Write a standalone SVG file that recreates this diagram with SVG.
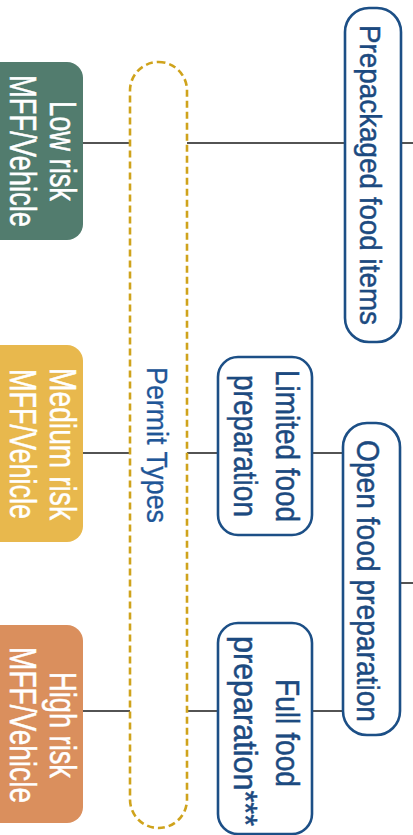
<svg xmlns="http://www.w3.org/2000/svg" width="413" height="835" viewBox="0 0 413 835">
<style>
.risk{stroke:none}
.wt{fill:#ffffff;stroke:#ffffff;stroke-width:0.5;font-family:"Liberation Sans",Arial,sans-serif;font-size:36px;text-anchor:middle}
.bt{fill:#1c4a80;stroke:#1c4a80;stroke-width:0.5;font-family:"Liberation Sans",Arial,sans-serif;text-anchor:middle}
.pt{fill:#1f5697;stroke:#1f5697;stroke-width:0.3;font-family:"Liberation Sans",Arial,sans-serif;text-anchor:middle}
.box{fill:#ffffff;stroke:#1c4f86;stroke-width:2.6}
.permit{fill:none;stroke:#cfa31c;stroke-width:2.6;stroke-dasharray:7 4}
.conn line{stroke:#1a1a1a;stroke-width:1.5}
</style>
<rect width="413" height="835" fill="#ffffff"/>
<g class="conn" id="connectors">
<line x1="83" y1="143" x2="130" y2="143"/>
<line x1="187" y1="143" x2="345" y2="143"/>
<line x1="402" y1="143" x2="413" y2="143"/>
<line x1="83" y1="453" x2="130" y2="453"/>
<line x1="187" y1="453" x2="218" y2="453"/>
<line x1="312" y1="453" x2="343" y2="453"/>
<line x1="400" y1="583" x2="413" y2="583"/>
<line x1="83" y1="711" x2="130" y2="711"/>
<line x1="187" y1="711" x2="218" y2="711"/>
<line x1="312" y1="711" x2="343" y2="711"/>
</g>
<g id="permit-types">
<rect class="permit" x="130" y="62" width="57" height="766" rx="28.5"/>
<text class="pt" font-size="30" transform="translate(147,445) rotate(90)" textLength="156" lengthAdjust="spacingAndGlyphs">Permit Types</text>
</g>
<g id="low-risk">
<rect class="risk" x="-20" y="62" width="103" height="178" rx="16" fill="#527c6e"/>
<text class="wt" transform="translate(50,151) rotate(90)" textLength="100" lengthAdjust="spacingAndGlyphs">Low risk</text>
<text class="wt" transform="translate(10,151) rotate(90)" textLength="152" lengthAdjust="spacingAndGlyphs">MFF/Vehicle</text>
</g>
<g id="medium-risk">
<rect class="risk" x="-20" y="345" width="103" height="197" rx="16" fill="#e8b84d"/>
<text class="wt" transform="translate(50,444) rotate(90)" textLength="152" lengthAdjust="spacingAndGlyphs">Medium risk</text>
<text class="wt" transform="translate(10,444) rotate(90)" textLength="150" lengthAdjust="spacingAndGlyphs">MFF/Vehicle</text>
</g>
<g id="high-risk">
<rect class="risk" x="-20" y="625" width="103" height="198" rx="16" fill="#da8f5d"/>
<text class="wt" transform="translate(50,725) rotate(90)" textLength="106" lengthAdjust="spacingAndGlyphs">High risk</text>
<text class="wt" transform="translate(10,725) rotate(90)" textLength="156" lengthAdjust="spacingAndGlyphs">MFF/Vehicle</text>
</g>
<g id="prepackaged">
<rect class="box" x="345" y="8" width="56" height="334" rx="24"/>
<text class="bt" font-size="30" transform="translate(360,175) rotate(90)" textLength="300" lengthAdjust="spacingAndGlyphs">Prepackaged food items</text>
</g>
<g id="limited-food">
<rect class="box" x="218" y="357" width="94" height="178" rx="20"/>
<text class="bt" font-size="34" transform="translate(276,446) rotate(90)" textLength="152" lengthAdjust="spacingAndGlyphs">Limited food</text>
<text class="bt" font-size="34" transform="translate(234,446) rotate(90)" textLength="142" lengthAdjust="spacingAndGlyphs">preparation</text>
</g>
<g id="open-food">
<rect class="box" x="343" y="423" width="57" height="312" rx="24"/>
<text class="bt" font-size="31" transform="translate(357,581) rotate(90)" textLength="282" lengthAdjust="spacingAndGlyphs">Open food preparation</text>
</g>
<g id="full-food">
<rect class="box" x="218" y="623" width="94" height="211" rx="20"/>
<text class="bt" font-size="34" transform="translate(276,733) rotate(90)" textLength="108" lengthAdjust="spacingAndGlyphs">Full food</text>
<text class="bt" font-size="34" transform="translate(234,731) rotate(90)" textLength="190" lengthAdjust="spacingAndGlyphs">preparation***</text>
</g>
</svg>
